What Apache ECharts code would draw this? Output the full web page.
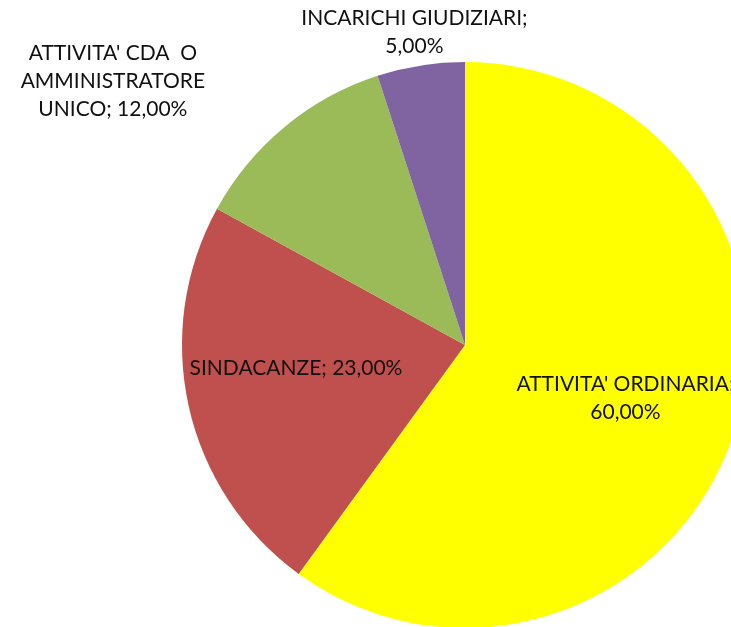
<!DOCTYPE html>
<html>
<head>
<meta charset="utf-8">
<script src="https://cdn.jsdelivr.net/npm/echarts@6/dist/echarts.min.js"></script>
<style>
  html, body { margin: 0; padding: 0; background: #fff; }
  #chart { width: 731px; height: 627px; }
</style>
</head>
<body>
<div id="chart"></div>
<script>
// dati del grafico
var categories = ["ATTIVITA' ORDINARIA", 'SINDACANZE', "ATTIVITA' CDA  O\nAMMINISTRATORE\nUNICO", 'INCARICHI GIUDIZIARI'];
var values = [60, 23, 12, 5];
var separators = [';\n', '; ', '; ', ';\n'];
var colors = ['#FFFF00', '#C0504D', '#9BBB59', '#8064A2'];

// spostamento delle etichette rispetto alla posizione di default
var labelShift = [[23, 9], [-28, -8], [-260, -152], [-28, -170]];

var chart = echarts.init(document.getElementById('chart'));

var option = {
    animation: false,
    series: [{
        type: 'pie',
        center: [465, 345],
        radius: 283,
        startAngle: 90,
        clockwise: true,
        avoidLabelOverlap: false,
        data: categories.map(function (name, i) {
            return { name: name, value: values[i], itemStyle: { color: colors[i] } };
        }),
        itemStyle: { borderWidth: 0 },
        label: {
            position: 'inside',
            color: '#111',
            fontFamily: 'Lato',
            fontSize: 21,
            lineHeight: 28,
            align: 'center',
            formatter: function (p) {
                return p.name + separators[p.dataIndex] + p.value.toFixed(2).replace('.', ',') + '%';
            }
        },
        labelLine: { show: false },
        labelLayout: function (p) {
            var s = labelShift[p.dataIndex];
            return { dx: s[0], dy: s[1] };
        },
        emphasis: { disabled: true }
    }]
};

chart.setOption(option);
</script>
</body>
</html>
